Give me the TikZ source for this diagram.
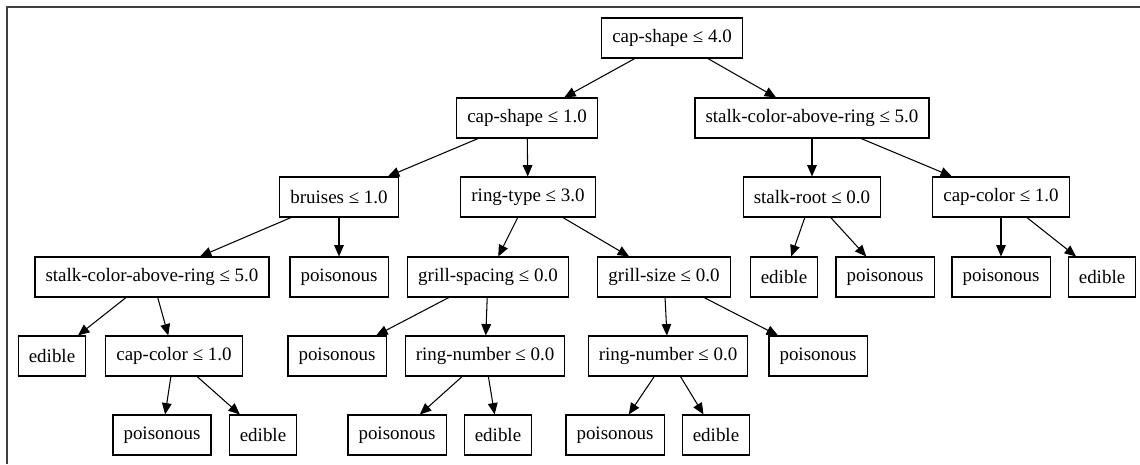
\documentclass[tikz,border=0pt]{standalone}
\usepackage{fontspec}
\setmainfont{Liberation Serif}
\usetikzlibrary{arrows.meta}
\begin{document}
\begin{tikzpicture}[x=0.02cm,y=-0.02cm,
    split/.style={draw,line width=0.6pt,inner xsep=6pt,minimum height=0.8cm,
                  font=\fontsize{10.8}{13}\selectfont},
    leaf/.style={split},
    edge/.style={line width=0.6pt,-{Triangle[length=6.5pt,width=5.5pt]}}]
    % Frame
    \useasboundingbox (0,0) rectangle (1140,464);
    \draw[line width=0.8pt,black!75] (7,464) -- (7,7) -- (1140,7);

    % Level 0 and 1
    \node[split] (root) at (672,38) {cap-shape ≤ 4.0};
    \node[split] (cs1) at (527,118) {cap-shape ≤ 1.0};
    \node[split] (scr1) at (812,118) {stalk-color-above-ring ≤ 5.0};

    % Level 2
    \node[split] (bru) at (339,197) {bruises ≤ 1.0};
    \node[split] (rt) at (528,197) {ring-type ≤ 3.0};
    \node[split] (sr) at (812,197) {stalk-root ≤ 0.0};
    \node[split] (cc1) at (1001,197) {cap-color ≤ 1.0};

    % Level 3
    \node[split] (scr2) at (152,277) {stalk-color-above-ring ≤ 5.0};
    \node[leaf] (poi1) at (339,277) {poisonous};
    \node[split] (gsp) at (488,277) {grill-spacing ≤ 0.0};
    \node[split] (gsz) at (664,277) {grill-size ≤ 0.0};
    \node[leaf] (ed1) at (784,277) {edible};
    \node[leaf] (poi2) at (885,277) {poisonous};
    \node[leaf] (poi3) at (1001,277) {poisonous};
    \node[leaf] (ed2) at (1102,277) {edible};

    % Level 4
    \node[leaf] (ed3) at (52,356) {edible};
    \node[split] (cc2) at (174,356) {cap-color ≤ 1.0};
    \node[leaf] (poi4) at (337,356) {poisonous};
    \node[split] (rn1) at (485,356) {ring-number ≤ 0.0};
    \node[split] (rn2) at (668,356) {ring-number ≤ 0.0};
    \node[leaf] (poi5) at (818,356) {poisonous};

    % Level 5
    \node[leaf] (poi6) at (162,435) {poisonous};
    \node[leaf] (ed4) at (263,435) {edible};
    \node[leaf] (poi7) at (397,435) {poisonous};
    \node[leaf] (ed5) at (498,435) {edible};
    \node[leaf] (poi8) at (615,435) {poisonous};
    \node[leaf] (ed6) at (716,435) {edible};

    % Edges
    \draw[edge] (root) -- (cs1);
    \draw[edge] (root) -- (scr1);
    \draw[edge] (cs1) -- (bru);
    \draw[edge] (cs1) -- (rt);
    \draw[edge] (scr1) -- (sr);
    \draw[edge] (scr1) -- (cc1);
    \draw[edge] (bru) -- (scr2);
    \draw[edge] (bru) -- (poi1);
    \draw[edge] (rt) -- (gsp);
    \draw[edge] (rt) -- (gsz);
    \draw[edge] (sr) -- (ed1);
    \draw[edge] (sr) -- (poi2);
    \draw[edge] (cc1) -- (poi3);
    \draw[edge] (cc1) -- (ed2);
    \draw[edge] (scr2) -- (ed3);
    \draw[edge] (scr2) -- (cc2);
    \draw[edge] (gsp) -- (poi4);
    \draw[edge] (gsp) -- (rn1);
    \draw[edge] (gsz) -- (rn2);
    \draw[edge] (gsz) -- (poi5);
    \draw[edge] (cc2) -- (poi6);
    \draw[edge] (cc2) -- (ed4);
    \draw[edge] (rn1) -- (poi7);
    \draw[edge] (rn1) -- (ed5);
    \draw[edge] (rn2) -- (poi8);
    \draw[edge] (rn2) -- (ed6);
\end{tikzpicture}
\end{document}
